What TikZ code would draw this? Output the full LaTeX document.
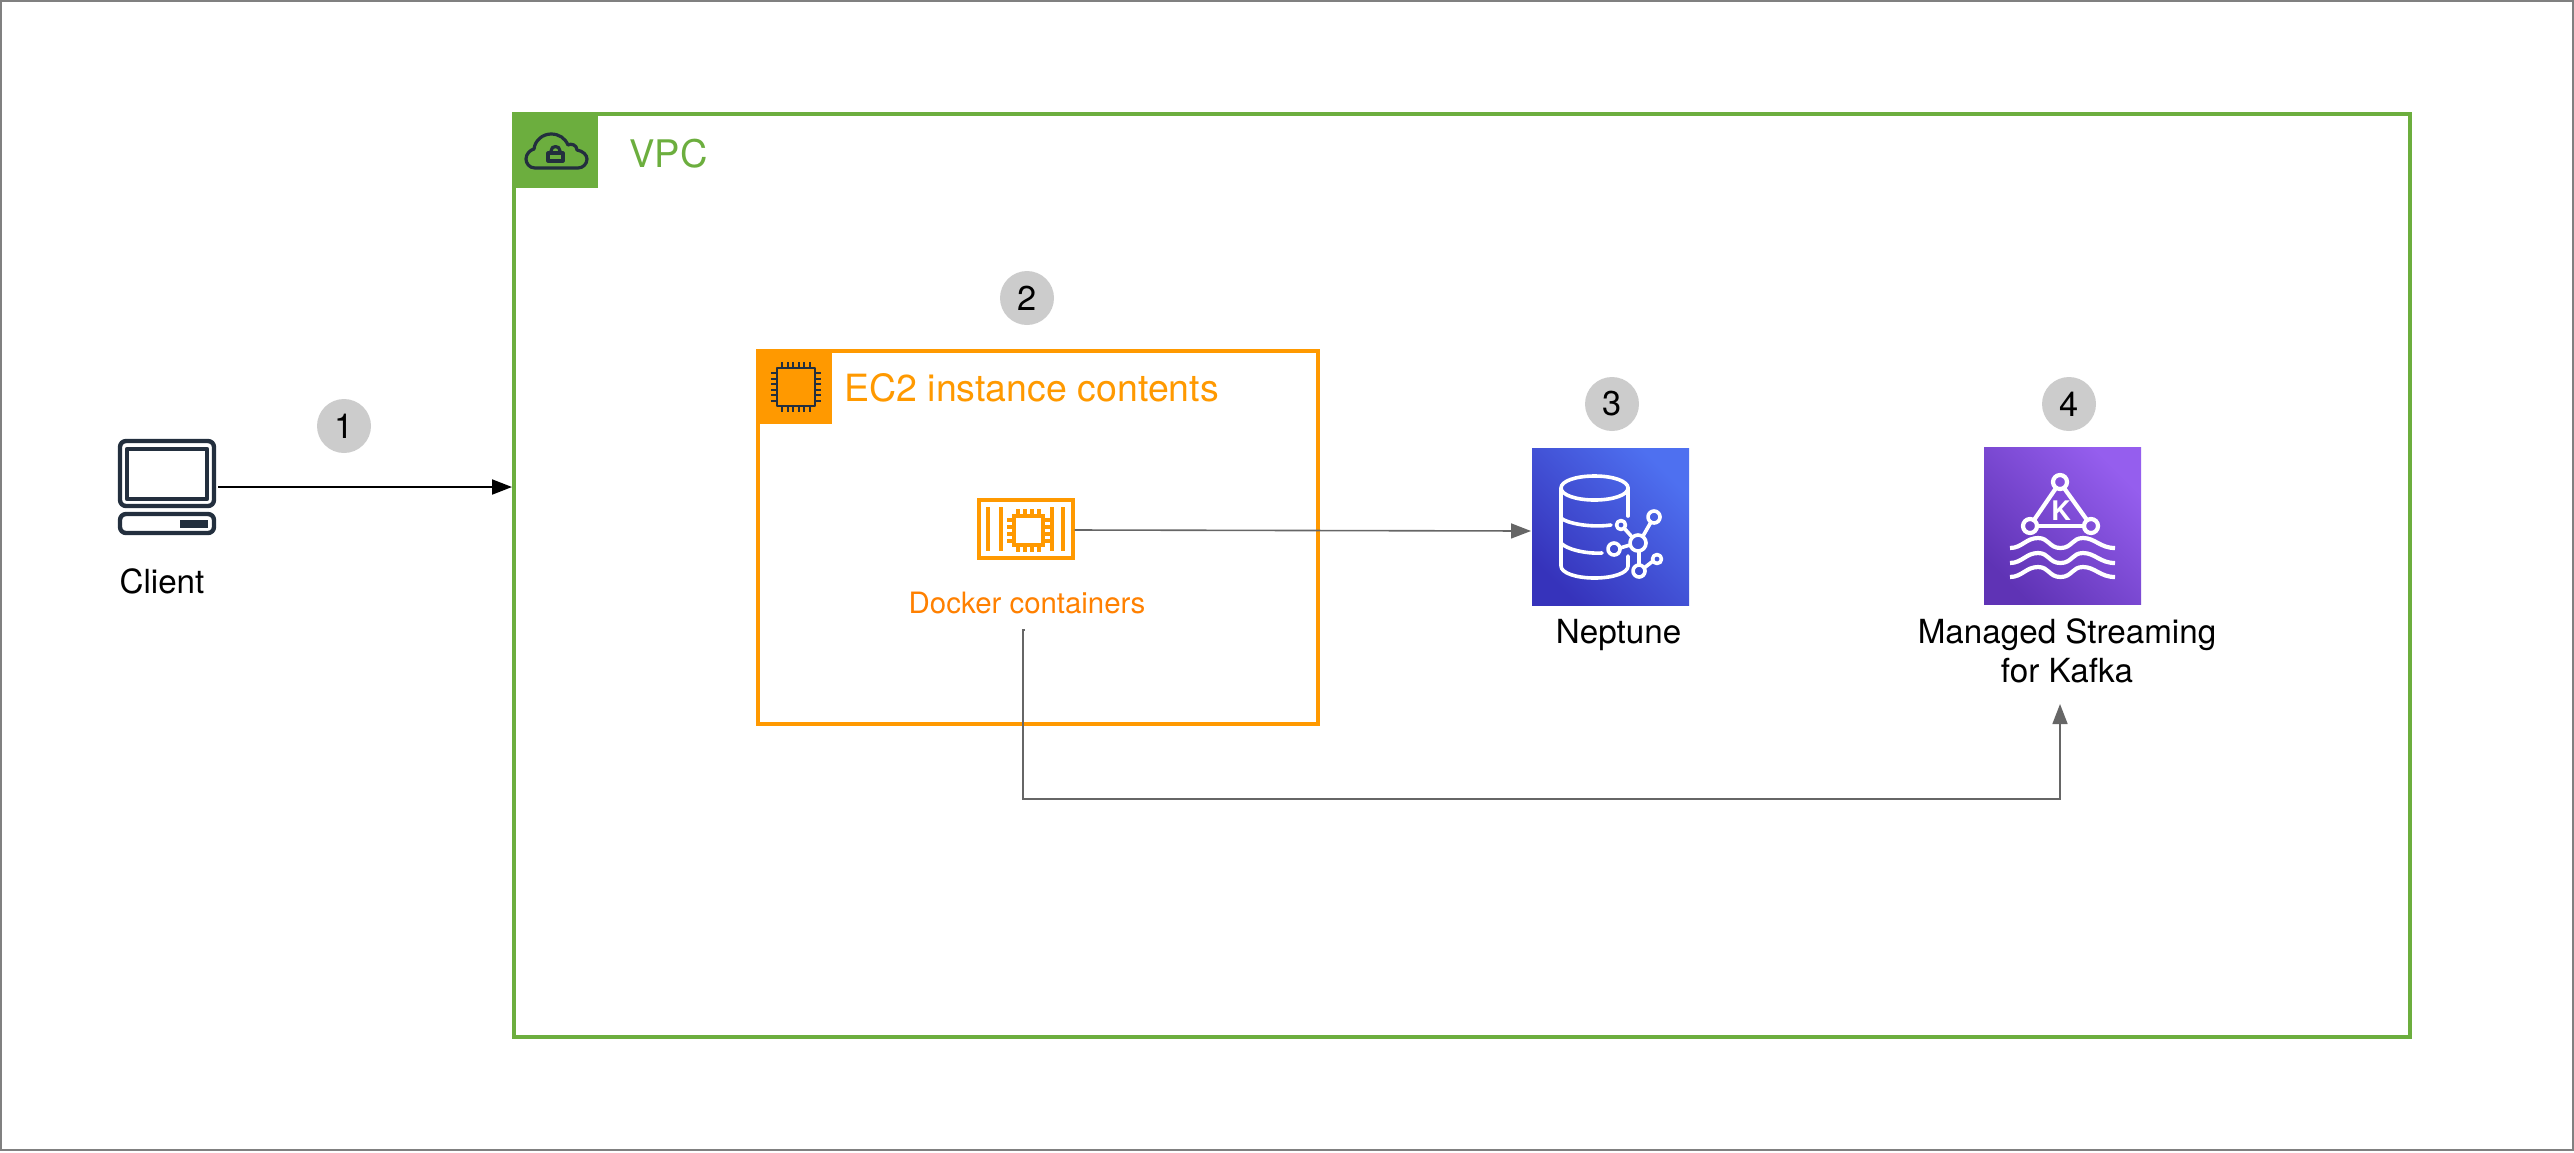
\documentclass[tikz,border=0pt]{standalone}
\usepackage{fontspec}
\setmainfont{TeX Gyre Heros}
\usepackage{xcolor}
\usetikzlibrary{arrows.meta,positioning}
\definecolor{vpcgreen}{HTML}{6CAE3E}
\definecolor{ec2orange}{HTML}{FF9900}
\definecolor{dockerorange}{HTML}{FF8000}
\definecolor{icondark}{HTML}{232F3E}
\definecolor{edgegray}{HTML}{666666}
\definecolor{stepgray}{HTML}{CCCCCC}
\definecolor{neptunelow}{HTML}{3633BB}
\definecolor{neptunehigh}{HTML}{4E70F0}
\definecolor{kafkalow}{HTML}{5F33B5}
\definecolor{kafkahigh}{HTML}{955EEE}
\tikzset{
  pageframe/.style = {draw=black!50, line width=.6pt},
  vpcframe/.style = {draw=vpcgreen, line width=2pt, minimum width=948pt, minimum height=461.5pt, inner sep=0pt},
  ec2frame/.style = {draw=ec2orange, line width=2pt, minimum width=280pt, minimum height=186.5pt, inner sep=0pt},
  vpcbadge/.style = {fill=vpcgreen},
  ec2badge/.style = {fill=ec2orange},
  iconline/.style = {draw=icondark, line width=1.6pt, line cap=round, line join=round},
  whiteline/.style = {draw=white, line width=1.8pt, line cap=round, line join=round},
  kafkaline/.style = {draw=white, line width=2.1pt, line cap=round, line join=round},
  dockerline/.style = {draw=ec2orange, line width=2pt},
  neptunebox/.style = {minimum size=78.5pt, inner sep=0pt, outer sep=0pt, bottom color=neptunelow, top color=neptunehigh, shading angle=-45},
  kafkabox/.style = {minimum size=78.5pt, inner sep=0pt, outer sep=0pt, bottom color=kafkalow, top color=kafkahigh, shading angle=-45},
  stepcircle/.style = {circle, fill=stepgray, minimum size=27pt, inner sep=0pt, font=\fontsize{17.2}{18}\selectfont},
  iconlabel/.style = {anchor=base, inner sep=0pt, font=\fontsize{16.6}{19.3}\selectfont, align=center},
  clientedge/.style = {black, line width=1pt, -{Triangle[length=10pt,width=7.5pt]}},
  cfgedge/.style = {edgegray, line width=.8pt, -{Triangle[length=10pt,width=7.5pt]}},
}

\begin{document}
\begin{tikzpicture}[x=.5pt,y=-.5pt]
    \useasboundingbox (0,0) rectangle (2574,1152);
    \draw[pageframe] (1,1) rectangle (2573,1150);

    \node[vpcframe] (vpc) at (1462,575.5) {};
    \fill[vpcbadge] (516,116) rectangle (597.5,188);
    \node[anchor=base west, inner sep=0pt, text=vpcgreen, font=\fontsize{19}{20}\selectfont] (vpclabel) at (629,167) {VPC};
    \draw[iconline] (535,168) .. controls (529,168) and (526,163) .. (526,159) .. controls (526,154) and (530,150) .. (534,149)
        .. controls (535,140) and (543,134) .. (551,134) .. controls (559,134) and (565,138) .. (568,145)
        .. controls (571,143) and (577,145) .. (577,150) .. controls (583,151) and (587,155) .. (587,159)
        .. controls (587,164) and (583,168) .. (578,168) -- cycle;
    \draw[iconline] (548,153) rectangle (563,161);
    \draw[iconline] (551,153) -- (551,151) .. controls (551,145) and (560,145) .. (560,151) -- (560,153);

    \node[ec2frame] (ec2) at (1038,537.5) {};
    \fill[ec2badge] (760,353) rectangle (832,424);
    \draw[iconline, line width=1.2pt] (777,368) rectangle (815,406);
    \foreach \p in {0,...,5} {
        \draw[iconline, line width=1pt, line cap=butt] (782+\p*5.6,362) -- (782+\p*5.6,368);
        \draw[iconline, line width=1pt, line cap=butt] (782+\p*5.6,406) -- (782+\p*5.6,412);
        \draw[iconline, line width=1pt, line cap=butt] (771,373+\p*5.6) -- (777,373+\p*5.6);
        \draw[iconline, line width=1pt, line cap=butt] (815,373+\p*5.6) -- (821,373+\p*5.6);
    }
    \node[anchor=base west, inner sep=0pt, text=ec2orange, font=\fontsize{18.75}{20}\selectfont] (ec2label) at (844,401) {EC2 instance contents};

    \node[dockerline, draw, minimum width=46.7pt, minimum height=29pt, inner sep=0pt, outer sep=1pt] (docker) at (1026,529) {};
    \foreach \p in {988,1001,1052,1063} {
        \draw[dockerline] (\p,507) -- (\p,551);
    }
    \draw[dockerline] (1014,516) rectangle (1043,545);
    \foreach \p in {0,...,3} {
        \draw[dockerline, line width=1.7pt] (1018+\p*7,509) -- (1018+\p*7,516);
        \draw[dockerline, line width=1.7pt] (1018+\p*7,545) -- (1018+\p*7,552);
        \draw[dockerline, line width=1.7pt] (1007,520+\p*7) -- (1014,520+\p*7);
        \draw[dockerline, line width=1.7pt] (1043,520+\p*7) -- (1050,520+\p*7);
    }
    \node[anchor=base, inner sep=0pt, text=dockerorange, font=\fontsize{14.7}{16}\selectfont] (dockerlabel) at (1027,613) {Docker containers};

    \node[minimum width=49pt, minimum height=48pt, inner sep=0pt, outer sep=1pt] (client) at (167,487) {};
    \draw[iconline, line width=2.2pt] (120,441) [rounded corners=3pt] rectangle (214,506);
    \draw[iconline, line width=2.2pt] (127,449) rectangle (207,499);
    \draw[iconline, line width=2.2pt] (120,514) [rounded corners=3pt] rectangle (214,533);
    \fill[icondark] (180,520) rectangle (208,528);
    \node[iconlabel] (clientlabel) at (162,593) {Client};

    \node[neptunebox] (neptune) at (1610.5,527) {};
    \draw[whiteline] (1561,488) .. controls (1561,481) and (1576,476) .. (1594.5,476) .. controls (1613,476) and (1628,481) .. (1628,488)
        .. controls (1628,495) and (1613,500) .. (1594.5,500) .. controls (1576,500) and (1561,495) .. (1561,488) -- cycle;
    \draw[whiteline] (1561,488) -- (1561,566) .. controls (1561,573) and (1576,578) .. (1594.5,578) .. controls (1613,578) and (1628,573) .. (1628,566) -- (1628,556);
    \draw[whiteline] (1628,488) -- (1628,516);
    \draw[whiteline] (1561,518) .. controls (1566,523) and (1590,528) .. (1611,525);
    \draw[whiteline] (1561,543) .. controls (1566,549) and (1585,554) .. (1602,553);
    \draw[whiteline] (1638,543) circle (8);
    \foreach \p/\q/\r in {1621/525/4.5,1654/517/6,1614/549/6,1639/571/6,1657/559/4.5} {
        \draw[whiteline] (\p,\q) circle (\r);
    }
    \draw[whiteline] (1624,528) -- (1632,537);
    \draw[whiteline] (1651,522) -- (1643,536);
    \draw[whiteline] (1620,548) -- (1630,545);
    \draw[whiteline] (1639,551) -- (1639,565);
    \draw[whiteline] (1644,568) -- (1653,561);
    \node[iconlabel] (neptunelabel) at (1618.5,643) {Neptune};

    \node[kafkabox] (kafka) at (2062.5,526) {};
    \draw[kafkaline] (2060,482) circle (7);
    \draw[kafkaline] (2030,526) circle (7);
    \draw[kafkaline] (2091,526) circle (7);
    \draw[kafkaline] (2056,488) -- (2034,520);
    \draw[kafkaline] (2064,488) -- (2087,520);
    \draw[kafkaline] (2037,526) -- (2084,526);
    \node[anchor=center, inner sep=0pt, text=white, font=\fontsize{13.5}{14}\selectfont\bfseries] (kafkak) at (2061,511) {K};
    \foreach \q in {543,558,572} {
        \draw[kafkaline, line cap=butt] (2010,\q+5) .. controls (2022,\q+5) and (2026,\q-5) .. (2038,\q-5)
            .. controls (2049,\q-5) and (2049,\q+5) .. (2060.5,\q+5) .. controls (2072,\q+5) and (2072,\q-5) .. (2083,\q-5)
            .. controls (2095,\q-5) and (2100,\q+5) .. (2115,\q+5);
    }
    \node[iconlabel] (kafkalabel) at (2067,682) {Managed Streaming\\for Kafka};

    \node[stepcircle] (step1) at (344,426) {1};
    \node[stepcircle] (step2) at (1027,298) {2};
    \node[stepcircle] (step3) at (1612,404) {3};
    \node[stepcircle] (step4) at (2069,404) {4};

    \coordinate (neptunein) at (1531,531);
    \coordinate (dockerout) at (1025,630);
    \coordinate (kafkain) at (2060,704);

    \path (client.east) edge[clientedge] (client.east -| vpc.west);
    \path ([yshift=-.5pt]docker.east) edge[cfgedge] (neptunein);
    \draw[cfgedge] (dockerout) -- ++(-2,0) -- ++(0,169) -| (kafkain);
\end{tikzpicture}
\end{document}
